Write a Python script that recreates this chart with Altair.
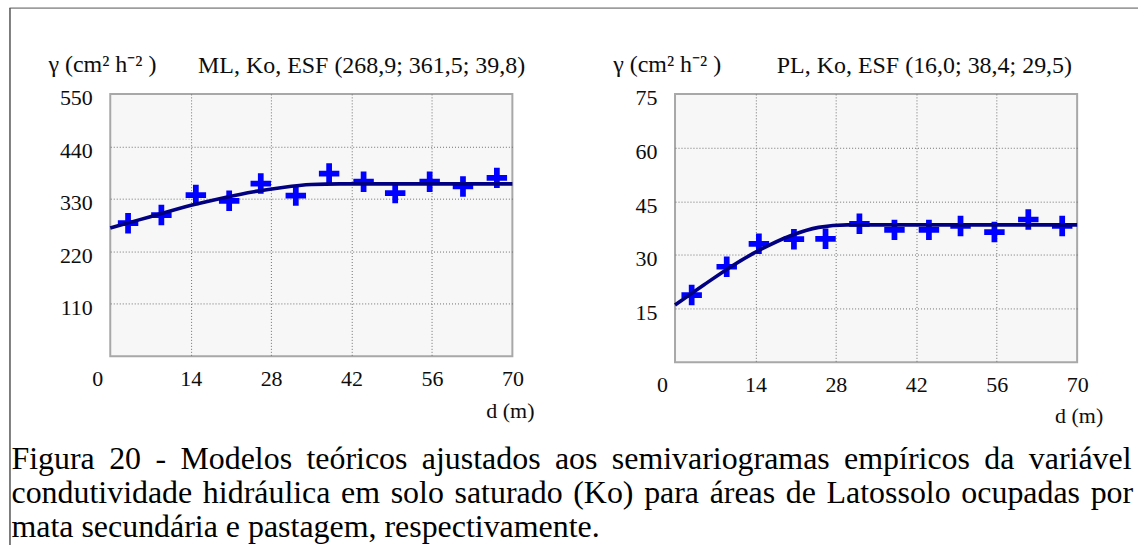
import altair as alt
import pandas as pd

# ---------------- data ----------------
# Left panel: ML (mata secundária)
dist_ml = [3.1, 8.9, 14.9, 20.7, 26.2, 32.3, 38.1, 44.1, 49.6, 55.6, 61.4, 67.3]
gamma_ml = [279, 296, 338, 326, 362, 337, 383, 366, 342, 366, 356, 374]
curve_ml_d = [0, 5, 10, 15, 20, 25, 30, 35, 40, 70]
curve_ml_g = [269, 286, 303, 319, 333, 345, 354, 360, 361.5, 361.5]

# Right panel: PL (pastagem)
dist_pl = [2.9, 9.0, 14.6, 20.7, 26.2, 32.1, 38.2, 44.2, 49.7, 55.6, 61.5, 67.4]
gamma_pl = [18.8, 26.7, 33.1, 34.4, 34.5, 38.7, 37.0, 37.0, 38.1, 36.4, 39.9, 38.1]
curve_pl_d = [0, 5, 10, 15, 20, 25, 30, 70]
curve_pl_g = [16.0, 21.6, 27.0, 31.6, 35.3, 37.7, 38.4, 38.4]

x_ticks = [0, 14, 28, 42, 56, 70]
y_ticks_ml = [110, 220, 330, 440, 550]
y_ticks_pl = [15, 30, 45, 60, 75]

title_ml = "ML, Ko, ESF (268,9; 361,5; 39,8)"
title_pl = "PL, Ko, ESF (16,0; 38,4; 29,5)"
y_label = "γ (cm² h⁻² )"
x_label = "d (m)"

cap_words_1 = ["Figura", "20", "-", "Modelos", "teóricos", "ajustados", "aos",
               "semivariogramas", "empíricos", "da", "variável"]
cap_words_2 = ["condutividade", "hidráulica", "em", "solo", "saturado", "(Ko)",
               "para", "áreas", "de", "Latossolo", "ocupadas", "por"]
cap_line_3 = "mata secundária e pastagem, respectivamente."

FONT = "Liberation Serif, Times New Roman, serif"
TXT = "#0d0d0d"
PLUS = "M-1,-0.28H1V0.28H-1Z M-0.28,-1H0.28V1H-0.28Z"

GAP1 = "\u2009\u2005"   # justified line 1 (slightly wider word gaps)
GAP2 = "\u2004"         # justified line 2


def one():
    return alt.Data(values=[{}])


def panel(dists, gammas, cd, cg, ymax, yticks, title, h, title_dx, dm_dx, dm_dy):
    pts = pd.DataFrame({"d": dists, "g": gammas})
    cur = pd.DataFrame({"d": cd, "g": cg})
    xenc = alt.X(
        "d:Q",
        scale=alt.Scale(domain=[0, 70], nice=False, zero=False),
        axis=alt.Axis(
            values=x_ticks, title=None, domain=False, ticks=False, grid=True,
            gridDash=[1, 2], gridColor="#707070", gridWidth=1,
            gridOpacity={"condition": {"test": "datum.value == 0 || datum.value == 70", "value": 0}, "value": 1},
            labelFont=FONT, labelFontSize=22, labelColor=TXT, labelPadding=12,
            labelFlush=False, labelOverlap=False,
            labelOffset={"condition": {"test": "datum.value == 0", "value": -13}, "value": 0},
        ),
    )
    yenc = alt.Y(
        "g:Q",
        scale=alt.Scale(domain=[0, ymax], nice=False, zero=True),
        axis=alt.Axis(
            values=yticks, title=None, domain=False, ticks=False, grid=True,
            gridDash=[1, 2], gridColor="#707070", gridWidth=1,
            gridOpacity={"condition": {"test": "datum.value == %s" % ymax, "value": 0}, "value": 1},
            labelFont=FONT, labelFontSize=22, labelColor=TXT, labelPadding=18,
            labelFlush=False, labelOverlap=False, labelOffset=4,
        ),
    )
    points = alt.Chart(pts).mark_point(
        shape=PLUS, filled=True, size=420, color="#0000ff", opacity=1, strokeWidth=0
    ).encode(x=xenc, y=yenc)
    line = alt.Chart(cur).mark_line(
        color="#000080", strokeWidth=3.6, interpolate="monotone"
    ).encode(x=xenc, y=yenc)
    ylab = alt.Chart(one()).mark_text(
        font=FONT, fontSize=24, color=TXT, align="left", baseline="middle"
    ).encode(x=alt.value(-62), y=alt.value(-29), text=alt.value(y_label))
    ttl = alt.Chart(one()).mark_text(
        font=FONT, fontSize=24, color=TXT, align="left", baseline="middle"
    ).encode(x=alt.value(title_dx), y=alt.value(-28), text=alt.value(title))
    xlab = alt.Chart(one()).mark_text(
        font=FONT, fontSize=22, color=TXT, align="center", baseline="middle"
    ).encode(x=alt.value(dm_dx), y=alt.value(h + dm_dy), text=alt.value(x_label))
    return [points, line, ylab, ttl, xlab]


left_layers = panel(dist_ml, gamma_ml, curve_ml_d, curve_ml_g, 550, y_ticks_ml,
                    title_ml, 263, 88, 401, 55)
right_layers = panel(dist_pl, gamma_pl, curve_pl_d, curve_pl_g, 75, y_ticks_pl,
                     title_pl, 269, 102, 405, 54)

# figure frame (top and left edges) and caption, placed relative to left panel
frame_top = alt.Chart(one()).mark_rule(color="#555555", strokeWidth=1).encode(
    x=alt.value(-101), x2=alt.value(1030), y=alt.value(-86))
frame_left = alt.Chart(one()).mark_rule(color="#555555", strokeWidth=1.5).encode(
    x=alt.value(-100.5), y=alt.value(-86), y2=alt.value(452))

cap_style = dict(font=FONT, fontSize=32, color="#000000", align="left", baseline="middle")
cap1 = alt.Chart(one()).mark_text(**cap_style).encode(
    x=alt.value(-99), y=alt.value(366), text=alt.value(GAP1.join(cap_words_1)))
cap2 = alt.Chart(one()).mark_text(**cap_style).encode(
    x=alt.value(-99), y=alt.value(400), text=alt.value(GAP2.join(cap_words_2)))
cap3 = alt.Chart(one()).mark_text(**cap_style).encode(
    x=alt.value(-99), y=alt.value(434), text=alt.value(cap_line_3))

left = alt.layer(*left_layers, frame_top, frame_left, cap1, cap2, cap3).properties(width=403, height=263)
right = alt.layer(*right_layers).properties(width=403, height=269)

chart = alt.hconcat(left, right, spacing=163, bounds="flush").properties(
    padding={"left": 7.5, "top": 5.5, "right": 0, "bottom": 0},
    background="#ffffff",
).configure_view(fill="#f7f7f7", stroke="#a8a8a8", strokeWidth=2)

chart.save("out.html", embed_options={"renderer": "svg", "actions": False})
